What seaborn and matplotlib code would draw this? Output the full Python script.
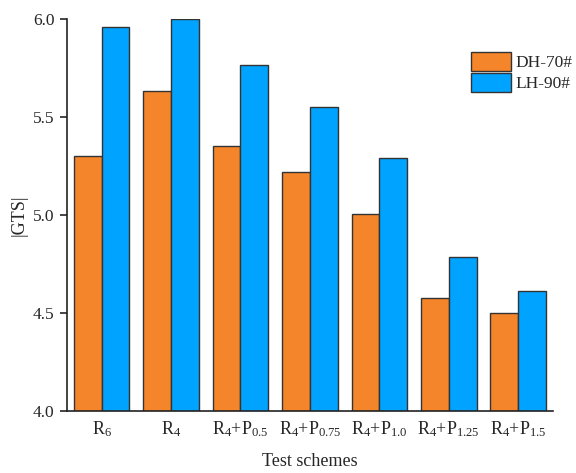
import pandas as pd
import seaborn as sns
import matplotlib.pyplot as plt

# values
schemes = ["R$_6$", "R$_4$", "R$_4$+P$_{0.5}$", "R$_4$+P$_{0.75}$",
           "R$_4$+P$_{1.0}$", "R$_4$+P$_{1.25}$", "R$_4$+P$_{1.5}$"]
dh70 = [5.30, 5.63, 5.35, 5.22, 5.005, 4.575, 4.50]
lh90 = [5.96, 6.00, 5.765, 5.55, 5.29, 4.785, 4.61]
series = ["DH-70#", "LH-90#"]
colors = ["#F5852A", "#00A3FF"]

df = pd.DataFrame({
    "scheme": schemes * 2,
    "GTS": dh70 + lh90,
    "binder": [series[0]] * len(schemes) + [series[1]] * len(schemes),
})

sns.set_style("white")
plt.rcParams["font.family"] = ["Liberation Serif", "DejaVu Serif"]
plt.rcParams["mathtext.fontset"] = "custom"
plt.rcParams["mathtext.rm"] = "Liberation Serif"
plt.rcParams["mathtext.it"] = "Liberation Serif:italic"

fig = plt.figure(figsize=(5.76, 4.73), dpi=100)
ax = fig.add_axes([0.116, 0.131, 0.844, 0.829])

sns.barplot(data=df, x="scheme", y="GTS", hue="binder", palette=colors,
            width=0.8, edgecolor="#333333", linewidth=1.0, saturation=1,
            ax=ax)

ax.set_ylim(4.0, 6.0)
ax.set_xlim(-0.5, 6.5)
ax.set_yticks([4.0, 4.5, 5.0, 5.5, 6.0])
ax.set_yticklabels(["4.0", "4.5", "5.0", "5.5", "6.0"])
ax.tick_params(axis="y", direction="out", length=5, width=1.2, left=True,
               labelsize=12.5, pad=4)
ax.tick_params(axis="x", length=0, labelsize=13, pad=6)
for side in ["top", "right"]:
    ax.spines[side].set_visible(False)
for side in ["left", "bottom"]:
    ax.spines[side].set_color("#222222")
    ax.spines[side].set_linewidth(1.2)

ax.set_xlabel("Test schemes", fontsize=13, labelpad=10)
ax.set_ylabel("|GTS|", fontsize=13, labelpad=4)

leg = ax.legend(loc="upper left", bbox_to_anchor=(0.805, 0.905),
                bbox_transform=fig.transFigure, frameon=False, fontsize=12.5,
                handlelength=2.3, handleheight=1.3, handletextpad=0.3,
                labelspacing=0.1, borderaxespad=0)

fig.savefig("out.png", dpi=100)
